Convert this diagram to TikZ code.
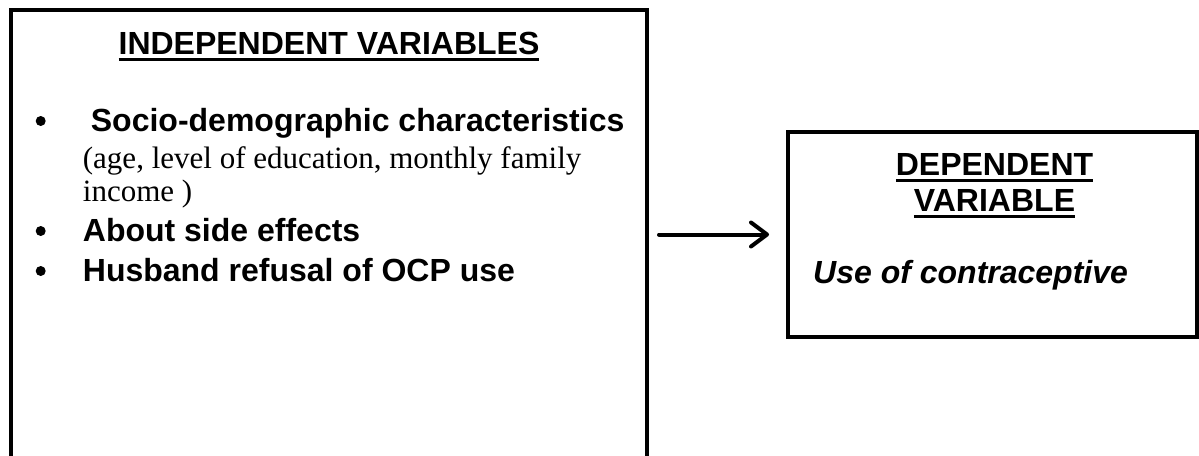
\documentclass[tikz,border=0pt]{standalone}
\usepackage{fontspec}
\usetikzlibrary{arrows.meta}
\newfontfamily\arialfont{Liberation Sans}
\newfontfamily\timesfont{Liberation Serif}
\newcommand{\headline}[1]{\setbox0\hbox{#1}\rlap{\usebox0}\rule[-6.5pt]{\wd0}{3pt}}

\begin{document}
\begin{tikzpicture}[x=1pt,y=1pt,yscale=-1,xscale=1,
  box/.style={draw, line width=4pt, inner sep=0pt},
  bold/.style={inner sep=0pt, font=\arialfont\bfseries\fontsize{32}{40}\selectfont},
  plain/.style={inner sep=0pt, font=\timesfont\fontsize{31}{38}\selectfont},
  dot/.style={circle, fill, inner sep=0pt, minimum size=10pt}]
\useasboundingbox (0,0) rectangle (1199,455);
\clip (0,0) rectangle (1199,455);

%Boxes
\node [box, minimum width=636pt, minimum height=460pt] (indep) at (329,240) {};
\node [box, minimum width=409pt, minimum height=205pt] (dep) at (992.5,234.5) {};

%Straight Lines
\draw [line width=4pt, line cap=round, -{Straight Barb[length=16pt,width=24pt,line width=4pt,round]}] ([xshift=10pt]indep.east |- dep.west) -- ([xshift=-17pt]dep.west);

% Text Node
\node [bold, anchor=base] (indephead) at (329,54) {\headline{INDEPENDENT VARIABLES}};
% Bullets
\node [dot] (dot1) at (40.7,121) {};
\node [dot] (dot2) at (40.7,231) {};
\node [dot] (dot3) at (40.7,271) {};
% Text Node
\node [bold, anchor=base west] (socio) at (90.7,131) {Socio-demographic characteristics};
\node [plain, anchor=base west] (age) at (82.7,168) {(age, level of education, monthly family};
\node [plain, anchor=base west] (income) at (82.7,201) {income )};
\node [bold, anchor=base west] (side) at (82.7,241) {About side effects};
\node [bold, anchor=base west] (husband) at (82.7,281) {Husband refusal of OCP use};

% Text Node
\node [bold, anchor=base] (dephead) at (994.5,175) {\headline{DEPENDENT}};
\node [bold, anchor=base] (varhead) at (994.5,211.7) {\headline{VARIABLE}};
\node [bold, anchor=base west, font=\arialfont\bfseries\itshape\fontsize{32}{40}\selectfont] (use) at (813,283) {Use of contraceptive};

\end{tikzpicture}
\end{document}
